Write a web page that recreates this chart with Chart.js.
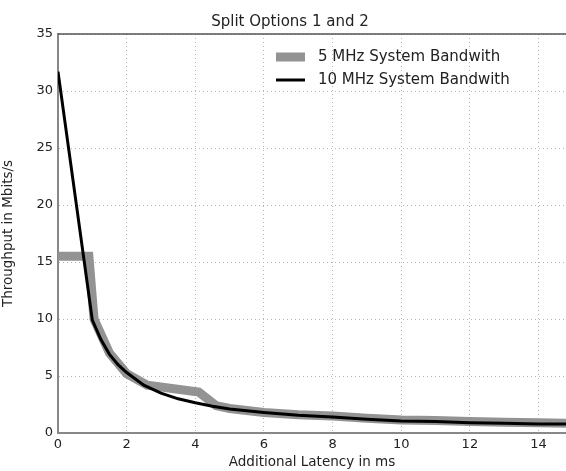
<!DOCTYPE html>
<html>
<head>
<meta charset="utf-8">
<script src="https://cdn.jsdelivr.net/npm/chart.js@4"></script>
<style>
  html,body{margin:0;padding:0;background:#fff;}
  #wrap{width:566px;height:471px;position:relative;}
</style>
</head>
<body>
<div id="wrap"><canvas id="c" width="566" height="471"></canvas></div>
<script>
// values
const latency5 = [0, 0.9, 1.05, 1.5, 2, 2.6, 4.1, 4.6, 5, 6, 7, 8, 9, 10, 11, 12, 13, 14, 14.8];
const thr5     = [15.5, 15.5, 10, 7, 5.2, 4.2, 3.6, 2.4, 2.15, 1.8, 1.6, 1.5, 1.3, 1.15, 1.1, 1.0, 0.95, 0.9, 0.85];
const latency10 = [0, 1, 1.25, 1.5, 1.75, 2, 2.5, 3, 3.5, 4, 4.5, 5, 5.5, 6, 7, 8, 9, 10, 11, 12, 13, 14, 14.8];
const thr10     = [31.7, 9.9, 8.2, 6.9, 6.0, 5.3, 4.2, 3.5, 3.0, 2.65, 2.35, 2.1, 1.95, 1.8, 1.55, 1.4, 1.2, 1.05, 1.0, 0.9, 0.85, 0.8, 0.78];
const seriesNames = ['5 MHz System Bandwith', '10 MHz System Bandwith'];
const chartTitle = 'Split Options 1 and 2';
const xTicks = [0, 2, 4, 6, 8, 10, 12, 14];
const yTicks = [0, 5, 10, 15, 20, 25, 30, 35];

const pts = (xs, ys) => xs.map((x,i)=>({x:x, y:ys[i]}));
const FONT = 'DejaVu Sans';

// title + legend drawn by hand so they sit where the original has them
const overlay = {
  id:'overlay',
  afterDraw(chart){
    const ctx = chart.ctx;
    const items = [{c:'#939393', w:9}, {c:'#000', w:3}];
    ctx.save();
    ctx.fillStyle = '#222';
    ctx.font = '15px "'+FONT+'"';
    ctx.textAlign = 'center'; ctx.textBaseline = 'middle';
    ctx.fillText(chartTitle, 290, 22);
    ctx.textAlign = 'left';
    items.forEach((it,i)=>{
      const y = 57 + i*23;
      ctx.strokeStyle = it.c; ctx.lineWidth = it.w;
      ctx.beginPath(); ctx.moveTo(276,y); ctx.lineTo(305,y); ctx.stroke();
      ctx.fillText(seriesNames[i], 318, y);
    });
    // top frame line
    const a = chart.chartArea;
    ctx.strokeStyle = '#555'; ctx.lineWidth = 1.5;
    ctx.beginPath(); ctx.moveTo(a.left, a.top); ctx.lineTo(a.right, a.top); ctx.stroke();
    ctx.restore();
  }
};

const ctx = document.getElementById('c').getContext('2d');
new Chart(ctx, {
  type:'line',
  data:{datasets:[
    {label:seriesNames[0], data:pts(latency5, thr5), borderColor:'#939393', borderWidth:9, pointRadius:0, tension:0, fill:false, order:2},
    {label:seriesNames[1], data:pts(latency10, thr10), borderColor:'#000', borderWidth:3, pointRadius:0, tension:0, fill:false, order:1}
  ]},
  options:{
    responsive:false, animation:false,
    layout:{padding:{left:0, right:0, top:34, bottom:0}},
    plugins:{legend:{display:false}, tooltip:{enabled:false}, title:{display:false}},
    scales:{
      x:{type:'linear', min:0, max:14.8,
        afterBuildTicks(s){ s.ticks = xTicks.map(v=>({value:v})); },
        afterFit(s){ s.height = 38; },
        ticks:{includeBounds:false, color:'#222', font:{family:FONT, size:13}, padding:4, maxRotation:0},
        grid:{color:'#b5b5b5', drawTicks:false},
        border:{color:'#888', width:2, dash:[1,3]},
        title:{display:true, text:'Additional Latency in ms', color:'#222', font:{family:FONT, size:13.5}, padding:{top:1, bottom:0}}
      },
      y:{type:'linear', min:0, max:35,
        afterBuildTicks(s){ s.ticks = yTicks.map(v=>({value:v})); },
        afterFit(s){ s.width = 58; },
        ticks:{color:'#222', font:{family:FONT, size:13}, padding:5},
        grid:{color:'#b5b5b5', drawTicks:false},
        border:{color:'#888', width:2, dash:[1,3]},
        title:{display:true, text:'Throughput in Mbits/s', color:'#222', font:{family:FONT, size:13.5}, padding:{top:0, bottom:4}}
      }
    }
  },
  plugins:[overlay]
});
</script>
</body>
</html>
